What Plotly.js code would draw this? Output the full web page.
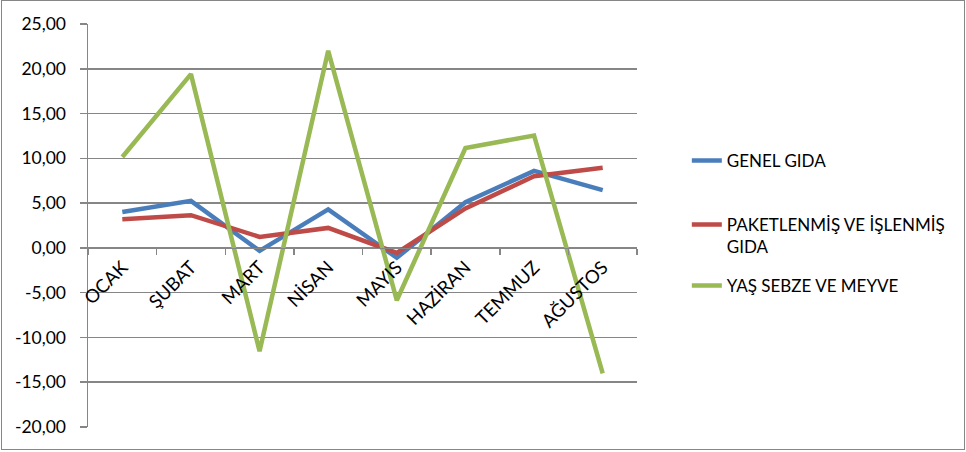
<!DOCTYPE html>
<html>
<head>
<meta charset="utf-8">
<script src="https://cdn.plot.ly/plotly-3.0.1.min.js"></script>
<style>
  html, body { margin: 0; padding: 0; background: #fff; }
  #wrap { position: relative; width: 966px; height: 452px; }
  #chart { width: 966px; height: 452px; }
  #frame { position: absolute; left: 1px; top: 0px; width: 962px; height: 448px;
           border: 1.5px solid #868686; pointer-events: none; }
</style>
</head>
<body>
<div id="wrap">
  <div id="chart"></div>
  <div id="frame"></div>
</div>
<script>
// Categories (months)
const months = ["OCAK", "ŞUBAT", "MART", "NİSAN", "MAYIS", "HAZİRAN", "TEMMUZ", "AĞUSTOS"];

// Series values
const genelGida = [4.0, 5.25, -0.33, 4.3, -1.1, 5.1, 8.6, 6.45];
const paketliGida = [3.2, 3.65, 1.23, 2.23, -0.56, 4.4, 8.0, 8.95];
const yasSebze = [10.15, 19.4, -11.55, 22.0, -5.85, 11.15, 12.55, -14.0];

// Series names
const seriesNames = ["GENEL GIDA", "PAKETLENMİŞ VE İŞLENMİŞ<br>GIDA", "YAŞ SEBZE VE MEYVE"];

// Y tick values and labels
const yTickVals = [-20, -15, -10, -5, 0, 5, 10, 15, 20, 25];
const yTickText = ["-20,00", "-15,00", "-10,00", "-5,00", "0,00", "5,00", "10,00", "15,00", "20,00", "25,00"];

const colors = ["#4A7EBB", "#BE4B48", "#98B954"];
const FONT = "Lato, 'Open Sans', sans-serif";

const seriesData = [genelGida, paketliGida, yasSebze];
const legendIds = ["legend", "legend2", "legend3"];

const traces = seriesData.map((vals, i) => ({
  type: "scatter",
  mode: "lines",
  x: months,
  y: vals,
  name: seriesNames[i],
  legend: legendIds[i],
  line: { color: colors[i], width: 4.5 },
  hoverinfo: "skip"
}));

const legendBase = {
  xref: "container", yref: "container",
  x: 0.711, xanchor: "left", yanchor: "middle",
  bgcolor: "rgba(0,0,0,0)", borderwidth: 0,
  font: { family: FONT, size: 17, color: "#000" },
  valign: "top"
};

const layout = {
  width: 966, height: 452,
  margin: { l: 88, r: 329, t: 24, b: 25, pad: 0 },
  paper_bgcolor: "#fff", plot_bgcolor: "#fff",
  showlegend: true,
  legend: Object.assign({}, legendBase, { y: 1 - 161 / 452 }),
  legend2: Object.assign({}, legendBase, { y: 1 - 236 / 452 }),
  legend3: Object.assign({}, legendBase, { y: 1 - 286 / 452 }),
  xaxis: {
    type: "category",
    range: [-0.5, 7.5],
    anchor: "free",
    position: 20 / 45,
    showline: true, linecolor: "#868686", linewidth: 1.5,
    showgrid: false, zeroline: false,
    ticks: "outside", tickson: "boundaries", ticklen: 6, tickcolor: "#868686", tickwidth: 1.5,
    tickangle: -45,
    tickfont: { family: FONT, size: 18.5, color: "#000" }
  },
  yaxis: {
    range: [-20, 25],
    tickvals: yTickVals, ticktext: yTickText,
    showline: true, linecolor: "#868686", linewidth: 1.5,
    showgrid: true, gridcolor: "#868686", gridwidth: 1.5,
    zeroline: false,
    ticks: "outside", ticklen: 7, tickcolor: "#868686", tickwidth: 1.5,
    ticklabelstandoff: 10,
    tickfont: { family: FONT, size: 17.5, color: "#000" }
  }
};

Plotly.newPlot("chart", traces, layout, { displayModeBar: false, staticPlot: true });
</script>
</body>
</html>
